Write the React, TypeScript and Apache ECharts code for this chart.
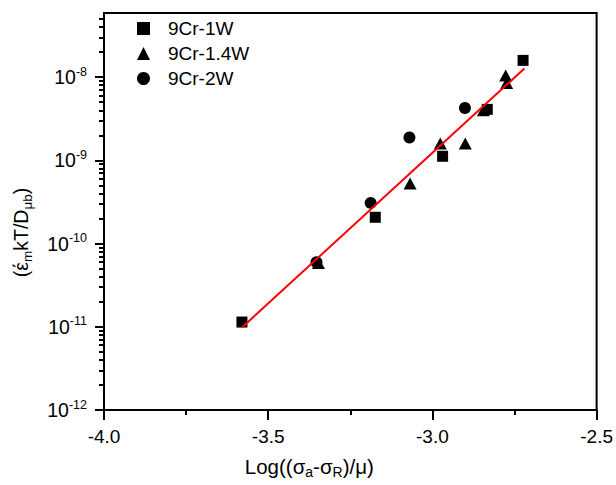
import React, { useEffect, useRef } from "react";
import * as echarts from "echarts";

// ---- data ----
const xTicksMin = -4.0;
const xTicksMax = -2.5;
const yMin = 1e-12;
const yMax = 5.9e-8;
const yMajorTicks = [1e-12, 1e-11, 1e-10, 1e-9, 1e-8];

const seriesNames = ["9Cr-1W", "9Cr-1.4W", "9Cr-2W"];

const x1W = [-3.58, -3.174, -2.969, -2.833, -2.724];
const y1W = [1.14e-11, 2.07e-10, 1.12e-9, 4.1e-9, 1.59e-8];

const x14W = [-3.347, -3.068, -2.976, -2.9, -2.845, -2.777, -2.774];
const y14W = [5.86e-11, 5.26e-10, 1.59e-9, 1.59e-9, 3.99e-9, 1.05e-8, 8.5e-9];

const x2W = [-3.353, -3.188, -3.07, -2.901];
const y2W = [5.98e-11, 3.08e-10, 1.88e-9, 4.26e-9];

const fitX = [-3.58, -2.72];
const fitY = [9.8e-12, 1.27e-8];

const FONT = "'Liberation Sans', Arial, Helvetica, sans-serif";

function pairs(xs: number[], ys: number[]) {
  return xs.map((x, i) => [x, ys[i]]);
}

function minorValues() {
  const out: number[] = [];
  for (let e = -12; e <= -8; e++) {
    for (let m = 2; m <= 9; m++) {
      const v = m * Math.pow(10, e);
      if (v <= yMax) out.push(v);
    }
  }
  return out;
}

export default function App() {
  const ref = useRef<HTMLDivElement>(null);
  useEffect(() => {
    if (!ref.current) return;
    const chart = echarts.init(ref.current, null, { renderer: "svg" });
    const sym = { color: "#000", opacity: 1 };
    chart.setOption({
      animation: false,
      backgroundColor: "#fff",
      textStyle: { fontFamily: FONT },
      grid: {
        left: 104,
        right: 16,
        top: 13,
        bottom: 75,
        show: true,
        borderColor: "#000",
        borderWidth: 2,
        backgroundColor: "transparent",
      },
      legend: {
        orient: "vertical",
        left: 132,
        top: 12,
        itemWidth: 13,
        itemHeight: 13,
        itemGap: 2,
        data: seriesNames,
        itemStyle: { opacity: 1 },
        textStyle: {
          fontFamily: FONT,
          fontSize: 19,
          color: "#000",
          lineHeight: 23,
          padding: [0, 0, 0, 13],
        },
      },
      xAxis: {
        type: "value",
        min: xTicksMin,
        max: xTicksMax,
        interval: 0.5,
        axisLine: { show: true, onZero: false, lineStyle: { color: "#000", width: 2 } },
        axisTick: { show: true, length: 10, lineStyle: { color: "#000", width: 2 } },
        minorTick: { show: true, splitNumber: 2, length: 5, lineStyle: { color: "#000", width: 2 } },
        splitLine: { show: false },
        axisLabel: {
          color: "#000",
          fontSize: 19,
          fontFamily: FONT,
          margin: 17,
          formatter: (v: number) => v.toFixed(1),
        },
        name: "Log((σ{s|a}-σ{s|R})/μ)",
        nameLocation: "middle",
        nameGap: 43,
        nameTextStyle: {
          color: "#000",
          fontSize: 20.5,
          fontFamily: FONT,
          lineHeight: 26,
          padding: [0, 82, 0, 0],
          rich: {
            s: { fontSize: 14, fontFamily: FONT, color: "#000", verticalAlign: "bottom", lineHeight: 6 },
          },
        },
      },
      yAxis: [
        {
          type: "log",
          logBase: 10,
          min: yMin,
          max: yMax,
          axisLine: { show: true, lineStyle: { color: "#000", width: 2 } },
          axisTick: { show: true, length: 9, customValues: yMajorTicks, lineStyle: { color: "#000", width: 2 } },
          splitLine: { show: false },
          axisLabel: {
            customValues: yMajorTicks,
            margin: 17,
            formatter: (v: number) => `{b|10}{s|${Math.round(Math.log10(v))}}`,
            rich: {
              b: { fontSize: 19.5, fontFamily: FONT, color: "#000", lineHeight: 24 },
              s: { fontSize: 12.5, fontFamily: FONT, color: "#000", verticalAlign: "top", lineHeight: 12 },
            },
          },
          name: "(έ{s|m}kT/D{s|μb})",
          nameLocation: "middle",
          nameRotate: 90,
          nameGap: 70,
          nameTextStyle: {
            color: "#000",
            fontSize: 19.5,
            fontFamily: FONT,
            lineHeight: 26,
            padding: [0, 42, 0, 0],
            rich: {
              s: { fontSize: 13.5, fontFamily: FONT, color: "#000", verticalAlign: "bottom", lineHeight: 6 },
            },
          },
        },
        {
          type: "log",
          logBase: 10,
          min: yMin,
          max: yMax,
          position: "left",
          axisLine: { show: false },
          axisTick: { show: true, length: 5, customValues: minorValues(), lineStyle: { color: "#000", width: 2 } },
          axisLabel: { show: false },
          splitLine: { show: false },
        },
      ],
      series: [
        {
          name: seriesNames[0],
          type: "scatter",
          symbol: "rect",
          symbolSize: 11,
          itemStyle: sym,
          data: pairs(x1W, y1W),
          z: 2,
        },
        {
          name: seriesNames[1],
          type: "scatter",
          symbol: "triangle",
          symbolSize: [13, 12],
          itemStyle: sym,
          data: pairs(x14W, y14W),
          z: 2,
        },
        {
          name: seriesNames[2],
          type: "scatter",
          symbol: "circle",
          symbolSize: 12,
          itemStyle: sym,
          data: pairs(x2W, y2W),
          z: 2,
        },
        {
          name: "fit",
          type: "line",
          showSymbol: false,
          symbol: "none",
          lineStyle: { color: "#ff0000", width: 2 },
          data: pairs(fitX, fitY),
          z: 5,
        },
      ],
    });
    return () => chart.dispose();
  }, []);
  return (
    <div
      ref={ref}
      style={{ position: "absolute", left: 0, top: 0, width: 616, height: 485 }}
    />
  );
}
